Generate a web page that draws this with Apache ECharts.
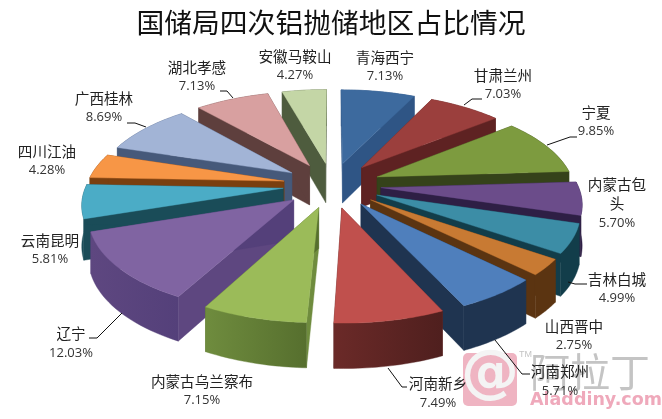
<!DOCTYPE html>
<html><head><meta charset="utf-8">
<style>html,body{margin:0;padding:0;background:#fff}#c{width:662px;height:419px}</style>
<script src="https://cdn.jsdelivr.net/npm/echarts@6/dist/echarts.min.js"></script>
</head><body><div id="c"></div>
<script>
const chartTitle = '国储局四次铝抛储地区占比情况';
const regions = ['青海西宁','甘肃兰州','宁夏','内蒙古包头','吉林白城','山西晋中','河南郑州','河南新乡','内蒙古乌兰察布','辽宁','云南昆明','四川江油','广西桂林','湖北孝感','安徽马鞍山'];
const shares = [7.13,7.03,9.85,5.70,4.99,2.75,5.71,7.49,7.15,12.03,5.81,4.28,8.69,7.13,4.27];

const topColors = ['#3D6A9E','#9B3F3D','#7D9B3F','#6B4C8A','#3C8DA6','#C87A33','#4F7FBC','#C0504D','#9BBB59','#8064A2','#4BACC6','#F79646','#A2B4D6','#D8A0A0','#C4D6A6'];
const wallColors = ['#2F5585','#5E2222','#35421A','#2E1F45','#123D4A','#5B3411','#1F3450','#6B2A28','#6F8C3E','#5E4780','#1A4C58','#7A3F0F','#46597A','#5E3F3D','#4E5C3E'];
const wallShade = ['#2F5585','#5E2222','#35421A','#2E1F45','#123D4A','#5B3411','#1F3450','#4F1F1E','#566F2E','#54407A','#1A4C58','#7A3F0F','#46597A','#5E3F3D','#4E5C3E'];
// label layout: [centre x, first line y, line step]
const labelLayout = [[385,57,19],[503,75,19],[596,112,19],[617,184,19.5],[617,279,19],[574,326,19],[560,371,20],[438,383,20],[202,381,19],[71,333,20],[50,240,19],[47,151,19],[104,98,19],[197,67,19],[295,56,19]];
const leaderLines = [null,[[464,105],[472,99],[482,99]],[[547,145],[570,137],[577,137]],null,[[568,282],[575,284],[587,284]],null,[[495,340],[522,374],[530,374]],[[388,368],[402,387],[407,387]],null,[[122,313],[97,338],[89,338]],null,null,[[146,127],[135,123],[127,123]],[[233,98],[227,91],[220,91]],null];

const CX=332, CY=185, R=197, EXPLODE=49, K=0.46, PERSP=0.00075, H=40;
const total = shares.reduce((a,b)=>a+b,0);
const starts = []; shares.reduce((a,v,i)=>{starts[i]=a;return a+v;},0);
const toAngle = p => p/total*2*Math.PI;
function project(X,Z,down){
  const s=1/(1+PERSP*Z);
  const h=down?H*(1+(s-1)*0.6):0;
  return [CX+X*s, CY-K*Z*s+h];
}
function slicePts(i,down){
  const a0=toAngle(starts[i]), a1=toAngle(starts[i]+shares[i]), m=(a0+a1)/2;
  const ex=EXPLODE*Math.sin(m), ez=EXPLODE*Math.cos(m);
  const arc=[]; const n=24;
  for(let j=0;j<=n;j++){const a=a0+(a1-a0)*j/n; arc.push(project(ex+R*Math.sin(a),ez+R*Math.cos(a),down));}
  return {apex:project(ex,ez,down),arc};
}
const drawOrder = shares.map((_,i)=>i).sort((a,b)=>Math.cos(toAngle(starts[b]+shares[b]/2))-Math.cos(toAngle(starts[a]+shares[a]/2)));

function renderSlice(params,api){
  const i=api.value(0), rank=params.dataIndex;
  const t=slicePts(i,false), b=slicePts(i,true);
  const n=t.arc.length-1;
  const wall=wallColors[i];
  const mk=(pts,fill,o)=>({type:'polygon',shape:{points:pts},style:{fill:fill,stroke:fill,lineWidth:0.4},z2:rank*10+o,silent:true});
  const outer=t.arc.concat(b.arc.slice().reverse());
  const grad=new echarts.graphic.LinearGradient(0,0,1,0,[{offset:0,color:wall},{offset:1,color:wallShade[i]}]);
  return {type:'group',children:[
    mk([t.apex,t.arc[0],b.arc[0],b.apex],wall,0),
    mk([t.apex,t.arc[n],b.arc[n],b.apex],wallShade[i],1),
    mk(outer,grad,2),
    mk([t.apex].concat(t.arc),topColors[i],3)
  ]};
}
function renderLabel(params,api){
  const i=api.value(0), L=labelLayout[i];
  const nm=regions[i]==='内蒙古包头'?['内蒙古包','头']:[regions[i]];
  const kids=[];
  nm.forEach((t,j)=>kids.push({type:'text',style:{x:L[0],y:L[1]+j*L[2],text:t,align:'center',verticalAlign:'middle',fill:'#222',font:'14.6px "Noto Sans CJK SC"'},z2:500}));
  kids.push({type:'text',style:{x:L[0],y:L[1]+nm.length*L[2],text:api.value(1).toFixed(2)+'%',align:'center',verticalAlign:'middle',fill:'#333',font:'13px "Open Sans"'},z2:500});
  if(leaderLines[i]) kids.push({type:'polyline',shape:{points:leaderLines[i]},style:{stroke:'#111',lineWidth:1,fill:null},z2:500});
  return {type:'group',children:kids};
}
const chart=echarts.init(document.getElementById('c'),null,{renderer:'canvas'});
chart.setOption({
  animation:false,backgroundColor:'#fff',
  title:{text:chartTitle,left:'center',top:4,textStyle:{fontFamily:'"Noto Sans CJK SC"',fontSize:27.8,fontWeight:'normal',color:'#111'}},
  graphic:[
    {type:'rect',shape:{x:463,y:353,width:54,height:53,r:5},style:{fill:'#EFB4C2'},z:1},
    {type:'text',style:{x:490,y:376,text:'@',align:'center',verticalAlign:'middle',fill:'#F4F4F4',font:'bold 58px "DejaVu Sans"'},z:1},
    {type:'text',style:{x:519,y:350,text:'TM',fill:'#C4C4C4',font:'9px "Liberation Sans"'},z:1},
    {type:'text',style:{x:530,y:372,text:'阿拉丁',verticalAlign:'middle',fill:'#C4C4C4',font:'40px "Noto Sans CJK SC"'},z:1},
    {type:'text',style:{x:530,y:400,text:'Aladdiny.com',verticalAlign:'middle',fill:'#EFA9BB',font:'bold 17.5px "DejaVu Sans"'},z:1}
  ],
  series:[
    {type:'custom',coordinateSystem:'none',silent:true,z:2,renderItem:renderSlice,data:drawOrder.map(i=>[i,shares[i]])},
    {type:'custom',coordinateSystem:'none',silent:true,z:3,renderItem:renderLabel,data:shares.map((v,i)=>[i,v])}
  ]
});
</script></body></html>
